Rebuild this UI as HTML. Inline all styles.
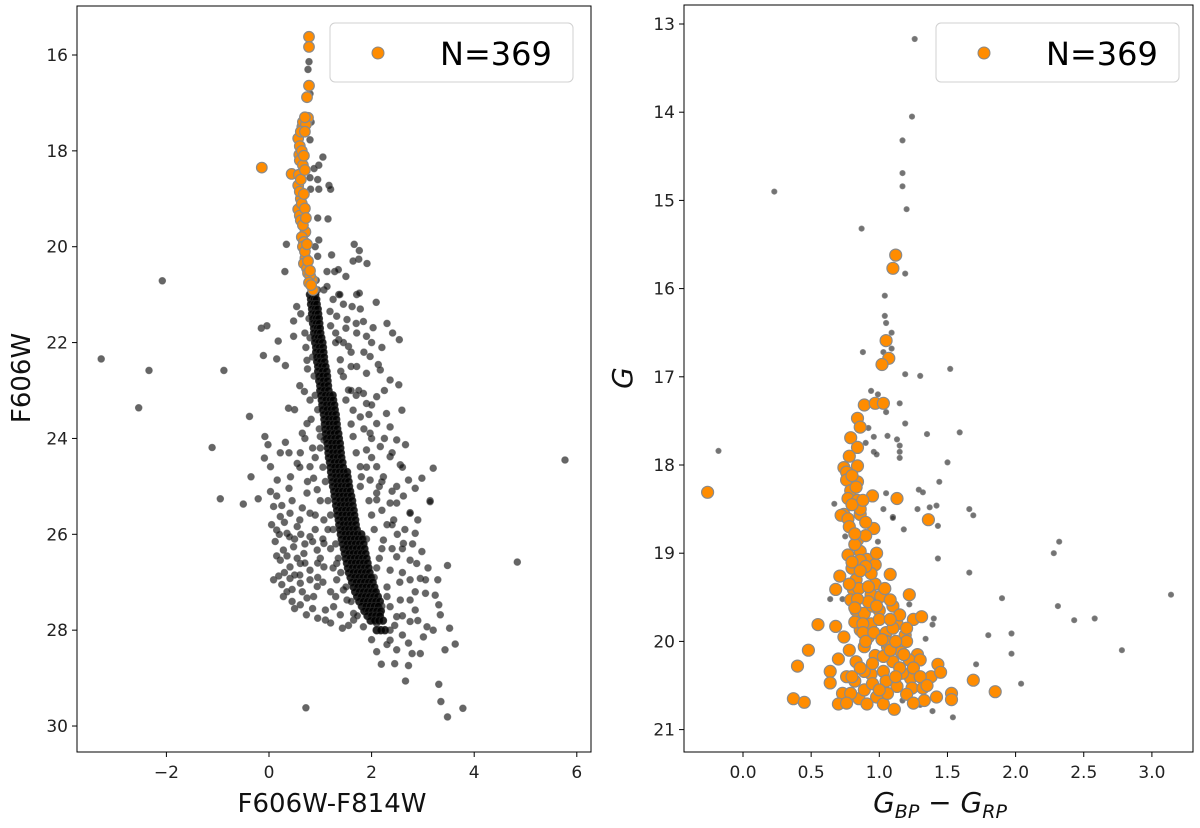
<!DOCTYPE html>
<html><head><meta charset="utf-8"><style>
html,body{margin:0;padding:0;background:#fff;}
svg{display:block;font-family:"DejaVu Sans","Liberation Sans",sans-serif;}
</style></head><body>
<svg id="fig" width="1200" height="828" viewBox="0 0 1200 828" xmlns="http://www.w3.org/2000/svg">
<g id="left"></g>
<g id="right"></g>
</svg>
<script>
// ---------- LEFT PANEL DATA (F606W-F814W, F606W) ----------
const leftXTicks = [-2, 0, 2, 4, 6];
const leftYTicks = [16, 18, 20, 22, 24, 26, 28, 30];
const hstField = [
[-3.27,22.34],[-2.34,22.58],[-2.54,23.36],[-0.88,22.58],[-1.11,24.19],[5.77,24.45],[-0.38,23.54],[-2.08,20.71],
[-0.15,21.7],[-0.04,21.65],[0.18,21.97],[-0.11,22.27],[0.15,22.34],[0.32,22.48],[0.38,23.37],[0.74,22.37],[0.75,22.55],
[0.48,21.55],[0.54,21.25],[0.48,21.87],[0.69,23.02],[0.8,23.2],[0.74,23.69],[0.65,23.89],[-0.08,23.96],[-0.02,24.13],
[0.32,24.08],[0.22,24.3],[0.39,24.3],[0.61,24.3],[-0.09,24.41],[0.03,24.59],[0.16,24.87],[-0.35,24.8],[0.03,25.11],
[0.39,25.04],[0.55,24.52],[0.42,24.8],[0.8,24.59],[0.87,24.83],[-0.95,25.26],[-0.5,25.37],[-0.21,25.26],[0.74,25.14],
[0.94,25.07],[1.0,23.96],[1.07,24.03],[0.62,21.4],[0.7,21.8],[0.72,22.1],[0.6,22.9],[0.5,23.4],[0.82,23.6],[0.9,24.4],
[1.07,20.9],[1.36,21.0],[1.71,21.0],[2.09,21.16],[1.45,21.2],[1.62,21.25],[1.78,21.3],[1.19,21.35],[1.32,21.45],[1.52,21.52],
[1.84,21.56],[2.03,21.69],[1.71,21.8],[1.9,21.87],[2.41,21.8],[2.54,21.94],[1.36,21.94],[1.55,22.08],[1.97,22.29],[2.13,22.46],
[1.39,22.36],[1.71,22.5],[1.9,22.64],[2.36,22.78],[2.17,22.57],[2.53,22.88],[1.45,22.71],[1.55,22.99],[1.84,23.06],[2.1,23.13],
[1.9,23.27],[2.59,23.41],[2.29,23.48],[1.64,23.41],[1.78,23.55],[2.1,23.69],[2.36,23.76],[1.97,23.89],[2.49,24.03],[2.66,24.13],
[2.17,24.17],[1.9,24.24],[1.64,23.96],[2.36,24.38],[2.56,24.55],[2.1,24.59],[3.2,24.62],[1.78,24.59],[2.23,24.8],[2.72,24.87],
[2.98,24.83],[2.49,25.0],[1.97,24.87],[2.85,25.04],[3.14,25.3],[2.62,25.2],[2.1,25.14],[1.78,25.0],[2.36,25.35],[2.75,25.55],
[1.6,22.2],[2.0,22.0],[2.25,23.0],[1.95,23.5],[2.4,24.3],[2.0,24.0],[1.7,23.1],[2.3,21.6],[1.5,21.7],[2.2,24.9],
[0.09,25.42],[0.22,25.63],[0.41,25.56],[0.8,25.56],[0.15,25.91],[0.35,25.98],[0.55,25.84],[0.8,26.05],[1.07,25.7],[0.12,26.15],
[0.28,26.33],[0.48,26.26],[0.68,26.4],[0.94,26.33],[1.07,26.19],[0.22,26.54],[0.41,26.68],[0.61,26.61],[0.8,26.75],[1.07,26.68],
[1.32,26.61],[0.09,26.95],[0.19,26.87],[0.41,26.92],[0.61,27.02],[0.8,26.95],[0.28,27.3],[0.45,27.4],[0.61,27.47],[0.74,27.33],
[0.87,27.3],[0.94,27.09],[0.73,27.68],[1.1,27.58],[1.1,27.79],[1.39,27.68],[1.65,27.65],[1.65,27.79],[1.84,27.37],[1.43,27.96],
[1.84,27.93],[1.32,26.95],[1.45,27.16],[1.52,27.37],[1.26,27.51],[0.72,29.62],[0.3,25.75],[0.5,26.1],[0.35,26.45],[0.55,26.5],
[0.3,26.8],[0.5,26.85],[0.7,26.2],[0.9,25.9],[0.6,25.7],[0.2,26.0],[1.0,26.5],[0.95,26.9],[0.45,27.15],[0.65,27.2],[1.2,26.3],
[2.1,25.28],[2.49,25.35],[3.14,25.32],[2.75,25.56],[2.43,25.7],[2.85,25.98],[2.62,26.19],[2.98,26.36],[3.48,26.65],[4.84,26.58],
[2.23,26.12],[2.49,26.47],[2.75,26.54],[2.88,26.61],[2.36,26.75],[2.75,26.95],[2.95,26.92],[3.05,26.95],[3.29,26.95],[3.05,27.23],
[3.24,27.27],[3.31,27.47],[3.34,27.68],[2.85,27.58],[2.56,27.37],[2.36,27.51],[2.75,27.37],[2.49,27.72],[2.75,27.82],[3.08,27.93],
[3.52,27.96],[3.63,28.29],[3.43,28.41],[3.01,28.14],[2.95,28.49],[2.79,28.49],[2.49,28.41],[2.36,28.21],[2.72,28.27],[2.19,28.71],
[2.72,28.74],[2.66,29.06],[3.31,29.13],[3.35,29.49],[3.78,29.63],[3.48,29.81],[1.9,27.58],[2.1,27.86],[2.36,28.0],[2.17,27.65],
[2.3,25.8],[2.2,26.3],[2.5,26.0],[2.0,25.6],[2.6,26.8],[2.3,27.1],[2.05,26.9],[2.2,25.5],
[0.78,16.14],[0.76,16.3],[0.8,16.81],[1.05,18.13],[0.97,18.3],[0.88,18.37],[1.17,18.72],[1.2,18.8],[0.81,18.8],[0.97,18.8],
[0.8,18.56],[0.95,18.6],[0.8,17.77],[0.95,19.4],[1.15,19.42],[0.34,19.95],[1.66,19.95],[1.76,20.08],[1.75,20.26],[1.91,20.35],
[1.64,20.3],[1.22,20.17],[0.31,20.52],[1.13,20.52],[1.28,20.52],[1.35,20.48],[1.5,20.62],[1.13,20.83],[1.38,21.0],[1.76,20.97],
[0.97,19.86],[0.95,20.2],[0.9,20.0],[0.92,20.7],[0.95,20.9],[0.82,17.4],
[0.78,21.5],[0.8,21.9],[0.85,22.3],[0.88,22.7],[0.9,23.1],[0.95,23.4],[0.98,23.8],[1.0,24.2],[1.05,24.6],[1.1,24.9],
[1.15,25.3],[1.2,25.6],[1.25,25.9],[1.3,26.2],[1.35,26.5],[1.4,26.8],[1.5,27.1],[1.6,27.4],[1.72,27.7],[1.2,27.2],
[0.7,24.0],[0.85,24.2],[0.6,24.6],[0.75,24.9],[1.0,25.3],[0.9,25.6],[1.15,25.9],[1.05,26.1],[1.25,26.7],[1.05,27.0],
[0.15,25.2],[0.25,25.4],[0.45,25.3],[0.65,25.45],[0.05,25.8],[0.4,26.05],[0.62,26.0],[0.85,26.15],[0.15,26.45],[0.6,26.85],
[0.25,27.05],[0.35,27.2],[0.5,27.55],[0.85,27.55],[0.95,27.75],[1.2,27.85],[1.55,27.9],[1.3,27.3],[0.7,26.6],[0.95,26.6],
[1.25,21.1],[1.2,21.65],[1.3,22.0],[1.4,22.6],[1.5,23.2],[1.6,23.7],[1.7,24.3],[1.8,24.8],[1.95,25.3],[2.05,25.9],
[2.15,26.5],[2.3,27.3],[2.45,27.9],[1.45,22.0],[1.6,22.5],[1.75,23.0],[1.85,23.8],[2.0,24.4],[2.15,25.0],[2.4,25.8],
[2.6,26.3],[2.55,27.0],[2.85,27.2],[2.6,27.7],[2.3,28.3],[2.45,28.7],[2.0,28.2],[2.1,28.45],[1.7,21.6],[1.3,21.8],
[1.6,23.0],[1.85,22.2],[2.2,22.1],[2.0,23.3],[2.25,24.0],[1.9,24.6],[2.6,24.6],[2.4,25.1],[2.9,25.7],[2.65,25.9],
[1.9,26.1],[2.1,26.7],[2.4,26.3],[2.8,26.2],[2.2,27.5],[3.1,26.7],[2.9,27.8],[2.6,28.1],[3.2,28.0],[2.05,27.2]
];
const hstRidge = [
[0.80,21.0],[0.86,21.0],[0.90,21.0],[0.82,21.1],[0.88,21.1],[0.92,21.1],[0.82,21.2],[0.88,21.2],[0.93,21.2],
[0.84,21.3],[0.90,21.3],[0.95,21.3],[0.84,21.4],[0.90,21.4],[0.96,21.4],[0.86,21.5],[0.92,21.5],[0.97,21.5],
[0.86,21.6],[0.92,21.6],[0.98,21.6],[0.88,21.7],[0.94,21.7],[0.99,21.7],[0.88,21.8],[0.94,21.8],[1.00,21.8],
[0.90,21.9],[0.96,21.9],[1.02,21.9],[0.90,22.0],[0.97,22.0],[1.04,22.0],[0.92,22.1],[0.98,22.1],[1.05,22.1],
[0.92,22.2],[0.99,22.2],[1.06,22.2],[0.94,22.3],[1.00,22.3],[1.07,22.3],[0.94,22.4],[1.01,22.4],[1.08,22.4],
[0.96,22.5],[1.03,22.5],[1.10,22.5],[0.96,22.6],[1.04,22.6],[1.12,22.6],[0.98,22.7],[1.05,22.7],[1.13,22.7],
[0.98,22.8],[1.06,22.8],[1.14,22.8],[1.00,22.9],[1.07,22.9],[1.15,22.9],[1.00,23.0],[1.08,23.0],[1.16,23.0],
[1.02,23.1],[1.10,23.1],[1.18,23.1],[1.24,23.1],[1.03,23.2],[1.11,23.2],[1.19,23.2],[1.25,23.2],
[1.04,23.3],[1.12,23.3],[1.20,23.3],[1.27,23.3],[1.05,23.4],[1.13,23.4],[1.21,23.4],[1.28,23.4],
[1.07,23.5],[1.15,23.5],[1.23,23.5],[1.30,23.5],[1.08,23.6],[1.16,23.6],[1.24,23.6],[1.31,23.6],
[1.09,23.7],[1.17,23.7],[1.25,23.7],[1.32,23.7],[1.10,23.8],[1.18,23.8],[1.26,23.8],[1.33,23.8],
[1.11,23.9],[1.19,23.9],[1.27,23.9],[1.35,23.9],[1.12,24.0],[1.20,24.0],[1.28,24.0],[1.36,24.0],
[1.14,24.1],[1.22,24.1],[1.30,24.1],[1.38,24.1],[1.15,24.2],[1.23,24.2],[1.31,24.2],[1.39,24.2],
[1.16,24.3],[1.24,24.3],[1.32,24.3],[1.40,24.3],[1.17,24.4],[1.25,24.4],[1.33,24.4],[1.41,24.4],
[1.19,24.5],[1.27,24.5],[1.35,24.5],[1.43,24.5],[1.20,24.6],[1.28,24.6],[1.36,24.6],[1.44,24.6],
[1.21,24.7],[1.29,24.7],[1.37,24.7],[1.45,24.7],[1.52,24.7],[1.22,24.8],[1.30,24.8],[1.38,24.8],[1.46,24.8],[1.53,24.8],
[1.24,24.9],[1.32,24.9],[1.40,24.9],[1.48,24.9],[1.55,24.9],[1.25,25.0],[1.33,25.0],[1.41,25.0],[1.49,25.0],[1.56,25.0],
[1.27,25.1],[1.35,25.1],[1.43,25.1],[1.51,25.1],[1.58,25.1],[1.28,25.2],[1.36,25.2],[1.44,25.2],[1.52,25.2],[1.60,25.2],
[1.30,25.3],[1.38,25.3],[1.46,25.3],[1.54,25.3],[1.62,25.3],[1.31,25.4],[1.39,25.4],[1.47,25.4],[1.55,25.4],[1.63,25.4],
[1.33,25.5],[1.41,25.5],[1.49,25.5],[1.57,25.5],[1.65,25.5],[1.34,25.6],[1.42,25.6],[1.50,25.6],[1.58,25.6],[1.66,25.6],
[1.36,25.7],[1.44,25.7],[1.52,25.7],[1.60,25.7],[1.68,25.7],[1.37,25.8],[1.45,25.8],[1.53,25.8],[1.61,25.8],[1.69,25.8],
[1.39,25.9],[1.47,25.9],[1.55,25.9],[1.63,25.9],[1.71,25.9],[1.40,26.0],[1.48,26.0],[1.56,26.0],[1.64,26.0],[1.72,26.0],[1.80,26.0],
[1.42,26.1],[1.50,26.1],[1.58,26.1],[1.66,26.1],[1.74,26.1],[1.82,26.1],[1.44,26.2],[1.52,26.2],[1.60,26.2],[1.68,26.2],[1.76,26.2],[1.84,26.2],
[1.46,26.3],[1.54,26.3],[1.62,26.3],[1.70,26.3],[1.78,26.3],[1.86,26.3],[1.48,26.4],[1.56,26.4],[1.64,26.4],[1.72,26.4],[1.80,26.4],[1.88,26.4],
[1.50,26.5],[1.58,26.5],[1.66,26.5],[1.74,26.5],[1.82,26.5],[1.90,26.5],[1.52,26.6],[1.60,26.6],[1.68,26.6],[1.76,26.6],[1.84,26.6],[1.92,26.6],
[1.54,26.7],[1.62,26.7],[1.70,26.7],[1.78,26.7],[1.86,26.7],[1.94,26.7],[1.56,26.8],[1.64,26.8],[1.72,26.8],[1.80,26.8],[1.88,26.8],[1.96,26.8],
[1.59,26.9],[1.67,26.9],[1.75,26.9],[1.83,26.9],[1.91,26.9],[1.99,26.9],[1.62,27.0],[1.70,27.0],[1.78,27.0],[1.86,27.0],[1.94,27.0],[2.02,27.0],
[1.65,27.1],[1.73,27.1],[1.81,27.1],[1.89,27.1],[1.97,27.1],[2.05,27.1],[1.68,27.2],[1.76,27.2],[1.84,27.2],[1.92,27.2],[2.00,27.2],[2.08,27.2],
[1.72,27.3],[1.80,27.3],[1.88,27.3],[1.96,27.3],[2.04,27.3],[2.12,27.3],[1.76,27.4],[1.84,27.4],[1.92,27.4],[2.00,27.4],[2.08,27.4],[2.16,27.4],
[1.81,27.5],[1.89,27.5],[1.97,27.5],[2.05,27.5],[2.13,27.5],[1.86,27.6],[1.94,27.6],[2.02,27.6],[2.10,27.6],[2.18,27.6],
[1.92,27.7],[2.00,27.7],[2.08,27.7],[2.16,27.7],[1.98,27.8],[2.06,27.8],[2.14,27.8],[2.22,27.8],[2.10,28.0],[2.18,28.0],[2.26,28.0]
];
const hstMembers = [
[0.78,15.62],[0.78,15.83],[0.78,16.64],[0.74,16.88],[0.76,17.31],[0.65,17.5],[0.57,17.74],[0.59,18.08],[-0.14,18.35],[0.44,18.48],
[0.57,18.72],[0.62,19.0],[0.57,19.22],[0.71,19.69],[0.71,20.24],[0.84,20.69],[0.86,20.9],
[0.66,17.4],[0.72,17.45],[0.62,17.6],[0.6,17.9],[0.64,18.0],[0.6,18.2],[0.66,18.3],[0.58,18.5],[0.62,18.6],[0.6,18.85],
[0.64,19.1],[0.6,19.35],[0.62,19.45],[0.66,19.55],[0.64,19.8],[0.68,19.9],[0.66,20.0],[0.7,20.1],[0.68,20.35],[0.74,20.45],
[0.76,20.55],[0.8,20.6],[0.78,20.75],[0.82,20.8],[0.7,17.3],[0.7,17.6],[0.68,18.1],[0.7,18.4],[0.68,18.9],[0.7,19.2],
[0.72,19.4],[0.74,19.95],[0.76,20.3],[0.8,20.5]
];
// ---------- RIGHT PANEL DATA (G_BP-G_RP, G) ----------
const rightXTicks = [0.0, 0.5, 1.0, 1.5, 2.0, 2.5, 3.0];
const rightYTicks = [13, 14, 15, 16, 17, 18, 19, 20, 21];
const gaiaField = [
[1.26,13.17],[1.24,14.05],[1.17,14.32],[1.17,14.69],[1.17,14.84],[1.2,15.1],[0.23,14.9],[0.87,15.32],[1.19,15.83],[1.04,16.08],
[1.04,16.31],[1.05,16.39],[1.09,16.5],[1.09,16.68],[1.03,16.72],[0.88,16.72],[1.19,16.97],[1.30,16.99],[1.52,16.91],
[0.94,17.16],[0.99,17.2],[1.15,17.3],[1.05,17.4],[1.19,17.53],[1.35,17.65],[1.59,17.63],[0.92,17.58],[0.96,17.68],[1.06,17.67],
[1.13,17.71],[1.15,17.78],[1.15,17.85],[1.15,17.92],[0.96,17.85],[0.98,17.88],[0.90,17.75],[-0.18,17.84],[1.5,17.97],[1.44,18.19],
[1.05,18.32],[1.29,18.28],[1.32,18.31],[0.67,18.44],[1.03,18.5],[1.28,18.5],[1.37,18.48],[1.42,18.46],[1.66,18.5],[1.69,18.57],
[1.10,18.59],[1.10,18.6],[1.43,18.69],[1.18,18.73],[0.99,18.87],[2.32,18.87],[2.28,19.0],[1.43,19.06],[1.66,19.22],[1.90,19.51],
[3.14,19.47],[2.31,19.6],[2.43,19.76],[2.58,19.74],[0.64,19.52],[0.73,19.52],[1.22,19.58],[1.40,19.74],[1.39,19.81],[1.34,19.97],
[1.80,19.93],[1.97,19.91],[1.97,20.14],[2.78,20.1],[1.71,20.26],[2.04,20.48],[1.39,20.79],[1.54,20.86],[1.17,20.67],[1.30,20.72],
[0.75,18.81]
];
const gaiaMembers = [
[1.12,15.62],[1.10,15.77],[1.05,16.59],[1.07,16.79],[1.02,16.86],[0.89,17.32],[0.97,17.3],[1.03,17.3],[0.84,17.47],[0.86,17.57],
[0.79,17.69],[0.84,17.8],[0.74,18.03],[0.76,18.08],[0.84,18.01],[0.76,18.17],[0.84,18.19],[0.79,18.29],[0.77,18.38],[0.84,18.4],
[0.95,18.35],[1.13,18.38],[0.74,18.56],[0.86,18.56],[1.36,18.62],[-0.26,18.31],
[0.72,18.57],[0.77,18.61],[0.86,18.5],[0.96,18.72],[0.77,19.02],[0.86,18.98],[0.91,19.07],[0.80,19.17],[0.97,19.13],[0.71,19.26],
[0.83,19.3],[1.08,19.24],[0.97,19.35],[0.68,19.41],[0.81,19.41],[0.94,19.47],[1.22,19.47],[0.83,19.65],[1.0,19.65],[1.10,19.6],
[0.89,19.68],[0.95,19.6],[1.25,19.75],[1.31,19.72],[0.55,19.81],[0.68,19.83],[0.74,19.95],[0.86,19.87],[1.05,19.9],[1.19,19.93],
[0.94,19.8],[1.13,19.8],[0.48,20.1],[0.78,20.1],[0.89,20.06],[0.97,20.16],[1.16,20.12],[1.28,20.15],[1.06,20.06],[0.40,20.28],
[0.70,20.2],[0.83,20.23],[1.10,20.23],[1.22,20.21],[1.30,20.21],[1.43,20.26],[0.64,20.34],[0.76,20.4],[0.94,20.37],[1.03,20.34],
[0.89,20.34],[1.23,20.42],[1.38,20.4],[1.45,20.35],[0.64,20.47],[1.69,20.44],[0.73,20.59],[0.85,20.65],[0.98,20.63],[1.13,20.51],
[1.24,20.53],[1.32,20.53],[0.37,20.65],[0.45,20.69],[0.70,20.71],[0.91,20.71],[1.03,20.71],[1.11,20.77],[1.33,20.67],[1.42,20.63],
[1.53,20.59],[1.53,20.66],[1.85,20.57],[0.79,20.59],[1.06,20.59],[0.89,20.55],[1.17,20.36],[1.03,20.17],[0.84,18.85],[0.94,19.23],
[1.01,19.49],[1.08,19.53],[0.79,19.53],[0.86,19.08],[0.82,18.9],[0.9,19.15],[0.85,19.4],[0.92,19.55],[1.0,19.75],[1.05,20.0],
[0.92,19.95],[0.82,19.78],[1.15,20.3],[0.95,20.48],[0.82,20.45],[1.2,20.0],[1.1,19.85],[0.9,18.8],
[0.78,17.9],[0.8,18.12],[0.8,18.45],[0.78,18.7],[0.82,18.78],[0.8,19.1],[0.78,19.35],[0.84,19.52],[0.82,19.62],[0.88,19.8],
[0.88,19.9],[0.9,20.0],[0.96,19.9],[1.02,19.98],[1.08,20.1],[1.12,20.0],[1.18,20.15],[1.25,20.3],[1.3,20.4],[1.35,20.5],
[1.2,20.6],[1.25,20.7],[1.05,20.45],[1.0,20.55],[0.86,20.3],[0.8,20.4],[0.76,20.7],[0.95,20.25],[1.12,20.4],[0.98,19.6],
[1.04,19.4],[0.98,19.0],[0.9,18.65],[0.92,19.38],[1.15,19.7],[1.2,19.85],[1.08,19.75],[0.86,19.2],[0.88,18.4],[0.83,18.25]
];

const NS = 'http://www.w3.org/2000/svg';
function mk(tag, attrs, parent) {
  const e = document.createElementNS(NS, tag);
  for (const k in attrs) e.setAttribute(k, attrs[k]);
  parent.appendChild(e);
  return e;
}
const L = {x0:77, x1:591, y0:6, y1:752, xs:(v)=>269 + v*51.3, ys:(v)=>55 + (v-16)*47.93};
const R = {x0:684, x1:1193, y0:5, y1:752, xs:(v)=>743 + v*136.3, ys:(v)=>24 + (v-13)*88.2};

function drawAxes(g, A, xt, yt, fmtX, fmtY, nm) {
  for (const v of xt) {
    const x = A.xs(v);
    const t = mk('line', {x1:x, x2:x, y1:A.y1, y2:A.y1+5, stroke:'#000', 'stroke-width':1}, g);
    
    
    const l = mk('text', {x:x, y:A.y1+26, 'text-anchor':'middle', 'font-size':17, fill:'#222'}, g);
    l.textContent = fmtX(v);
    
    
  }
  for (const v of yt) {
    const y = A.ys(v);
    const t = mk('line', {x1:A.x0-5, x2:A.x0, y1:y, y2:y, stroke:'#000', 'stroke-width':1}, g);
    
    
    const l = mk('text', {x:A.x0-9, y:y+6, 'text-anchor':'end', 'font-size':17, fill:'#222'}, g);
    l.textContent = fmtY(v);
    
    
  }
}
function drawPts(g, A, pts, r, fill, stroke, sw, nm) {
  for (const p of pts) {
    const c = mk('circle', {cx:A.xs(p[0]).toFixed(1), cy:A.ys(p[1]).toFixed(1), r:r, fill:fill, stroke:stroke, 'stroke-width':sw}, g);
    
    
  }
}
function frame(g, A, nm) {
  const r = mk('rect', {x:A.x0, y:A.y0, width:A.x1-A.x0, height:A.y1-A.y0, fill:'none', stroke:'#000', 'stroke-width':1}, g);
  
  
}
function legend(g, x, y, nm) {
  const b = mk('rect', {x:x, y:y, width:243, height:59, rx:5, fill:'#fff', 'fill-opacity':0.85, stroke:'#d0d0d0', 'stroke-width':1}, g);
  
  
  const m = mk('circle', {cx:x+48, cy:y+30, r:6, fill:'#ff8c00', stroke:'#888', 'stroke-width':1}, g);
  
  
  const t = mk('text', {x:x+110, y:y+42, 'font-size':32, fill:'#000'}, g);
  t.textContent = 'N=369';
  
  
}

// LEFT
const gl = document.getElementById('left');
drawPts(gl, L, hstField, 3.3, 'rgba(0,0,0,0.6)', 'rgba(90,90,90,0.7)', 1, 'field-star-point');
drawPts(gl, L, hstRidge, 3.8, 'rgba(0,0,0,0.85)', 'rgba(40,40,40,0.8)', 1, 'main-sequence-point');
drawPts(gl, L, hstMembers, 5.3, '#ff8c00', '#8a8a8a', 1.2, 'member-star-point');
frame(gl, L, 'left');
drawAxes(gl, L, leftXTicks, leftYTicks, v => v < 0 ? '\u2212' + Math.abs(v) : String(v), v => String(v), 'left');
legend(gl, 330, 23, 'left');
let t = mk('text', {x:332, y:812, 'text-anchor':'middle', 'font-size':26, fill:'#111'}, gl);
t.textContent = 'F606W-F814W';


t = mk('text', {x:0, y:0, 'text-anchor':'middle', 'font-size':26, fill:'#111', transform:'translate(30,378) rotate(-90)'}, gl);
t.textContent = 'F606W';



// RIGHT
const gr = document.getElementById('right');
drawPts(gr, R, gaiaField, 2.6, 'rgba(40,40,40,0.65)', 'rgba(120,120,120,0.8)', 1, 'gaia-field-star-point');
drawPts(gr, R, gaiaMembers, 6, '#ff8c00', '#8a8a8a', 1.2, 'gaia-member-star-point');
frame(gr, R, 'right');
drawAxes(gr, R, rightXTicks, rightYTicks, v => v.toFixed(1), v => String(v), 'right');
legend(gr, 936, 23, 'right');
t = mk('text', {x:940, y:812, 'text-anchor':'middle', 'font-size':28, fill:'#111', 'font-style':'italic'}, gr);


t.innerHTML = 'G<tspan font-size="19" dy="6">BP</tspan><tspan font-style="normal" dy="-6"> \u2212 </tspan>G<tspan font-size="19" dy="6">RP</tspan>';
t = mk('text', {x:0, y:0, 'text-anchor':'middle', 'font-size':28, 'font-style':'italic', fill:'#111', transform:'translate(632,378) rotate(-90)'}, gr);
t.textContent = 'G';


</script>
</body></html>
